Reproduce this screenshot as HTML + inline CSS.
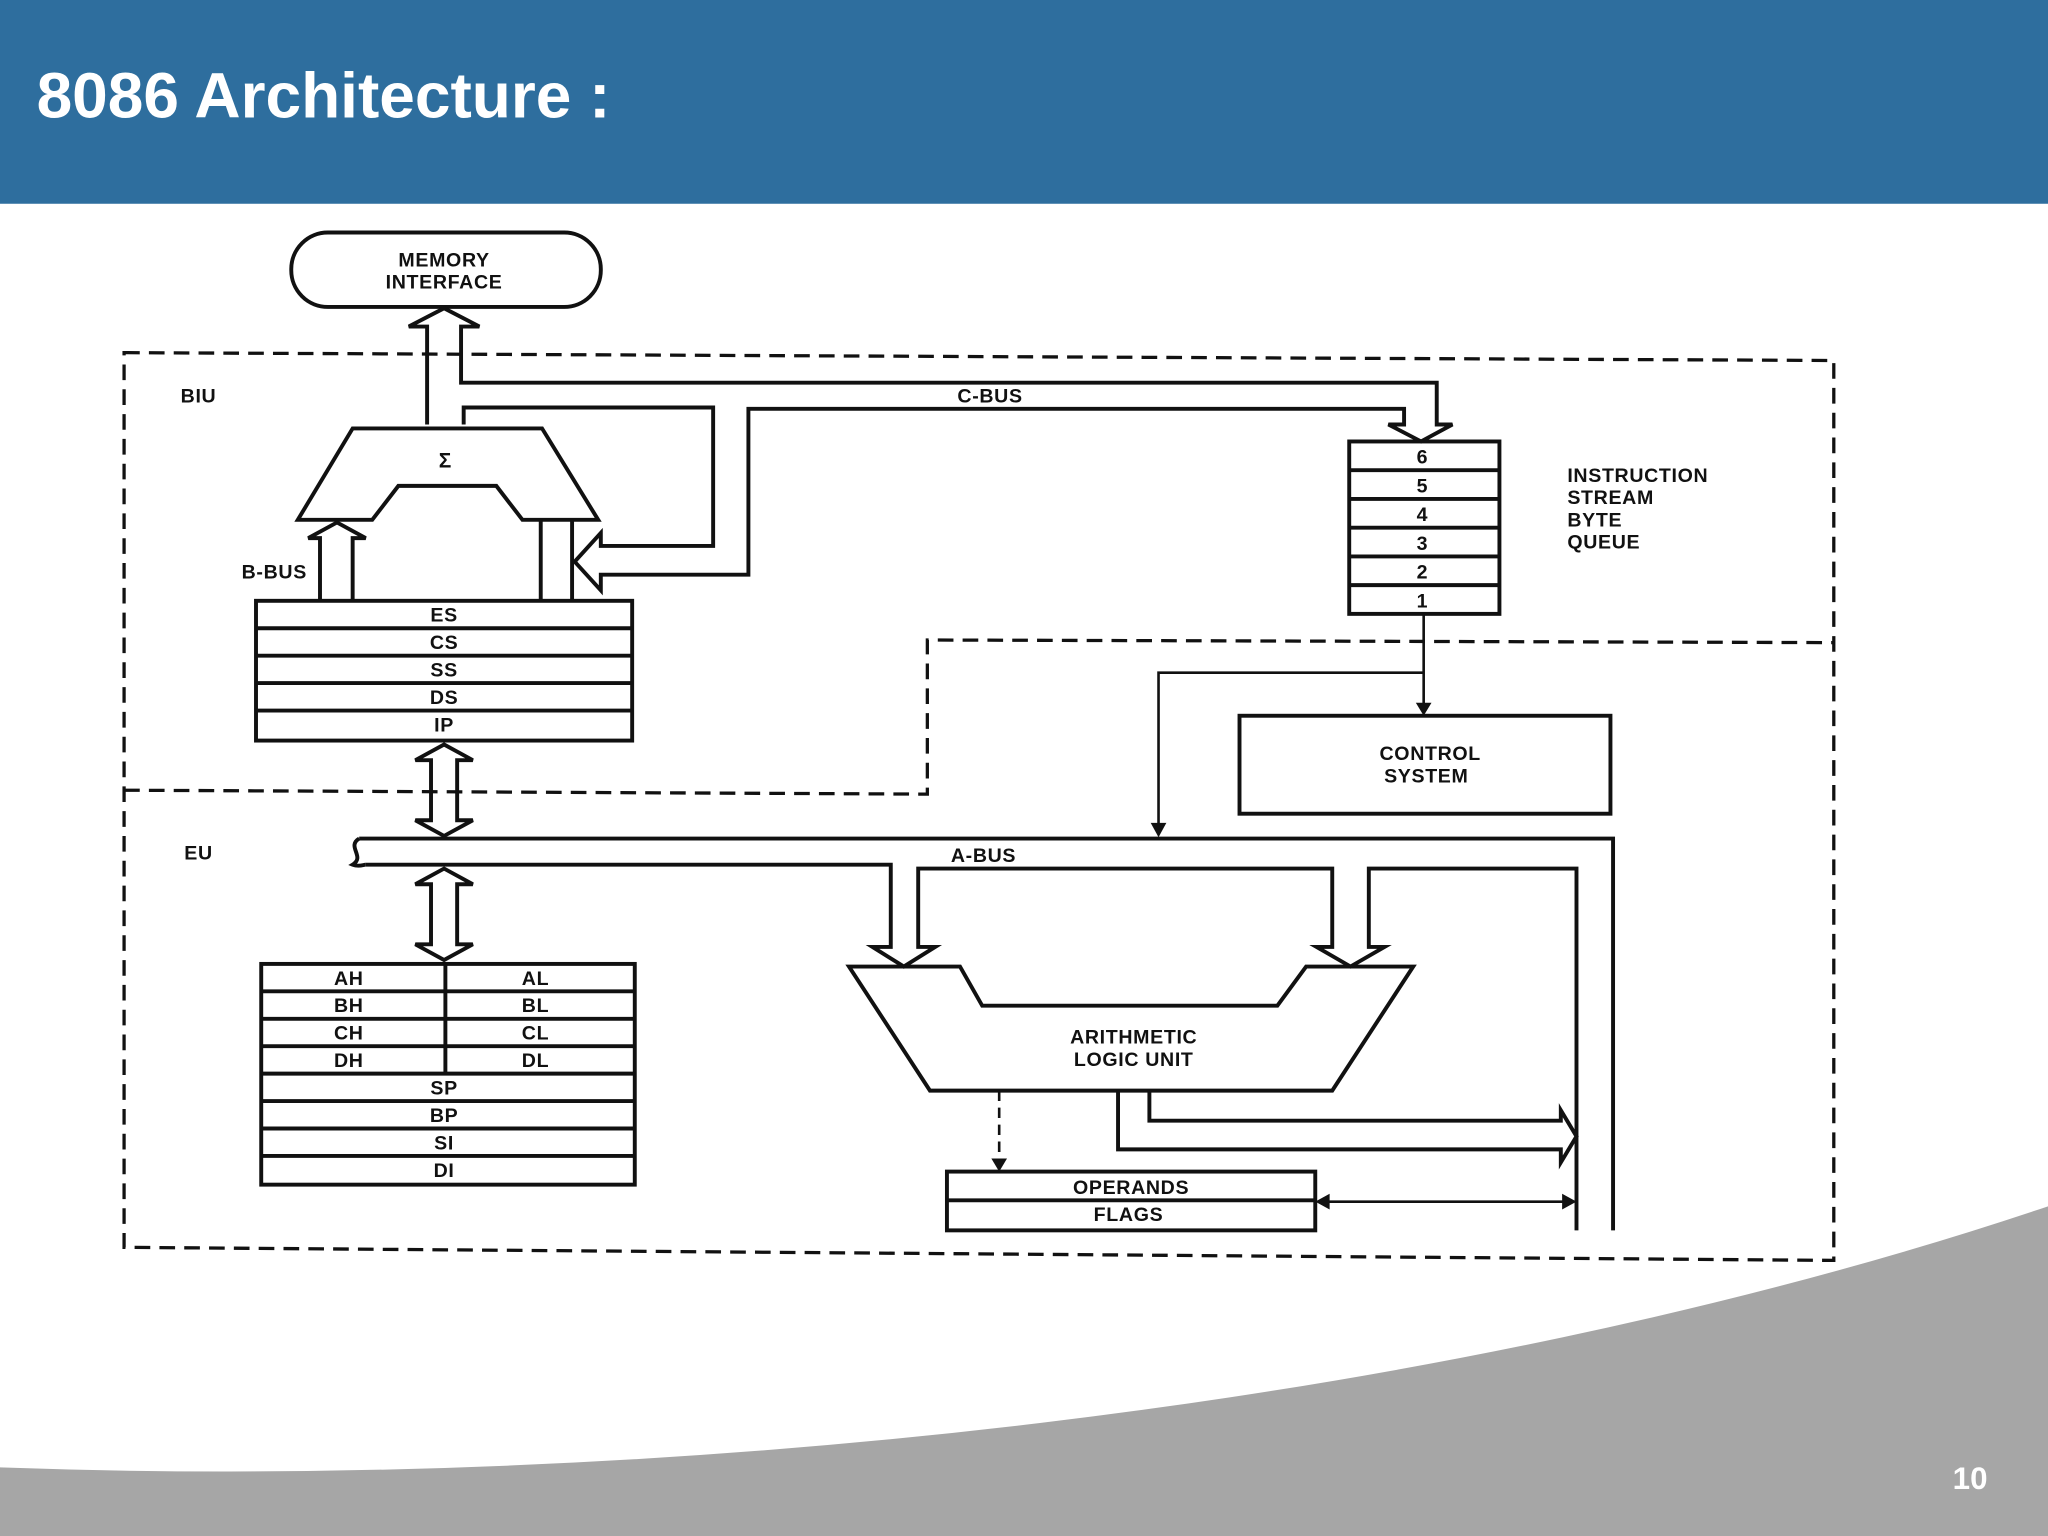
<!DOCTYPE html>
<html><head><meta charset="utf-8"><style>
html,body{margin:0;padding:0;width:2048px;height:1536px;overflow:hidden;background:#fff}
svg{display:block}
</style></head><body>
<svg width="2048" height="1536" viewBox="0 0 1568 1176" xmlns="http://www.w3.org/2000/svg">
<rect x="0" y="0" width="1568" height="156" fill="#2E6E9E"/>
<text x="28" y="90" font-family="Liberation Sans, sans-serif" font-weight="bold" font-size="49" fill="#fff">8086 Architecture :</text>
<!-- bottom swoosh -->
<path d="M0,1122 C500,1140 1100,1080 1568,922 L1568,1176 L0,1176 Z" fill="#A6A6A6"/>
<path d="M0,1122 C500,1140 1100,1080 1568,922" fill="none" stroke="#fff" stroke-width="3"/>
<text x="1495" y="1140" font-family="Liberation Sans, sans-serif" font-weight="bold" font-size="24" fill="#fff">10</text>

<g fill="none" stroke="#111" stroke-width="3">
<rect x="223" y="178" width="237" height="57" rx="28"/>
<g stroke-dasharray="12,7" stroke-width="2.5">
<path d="M95,270 L1404,276 L1404,965 L95,955 Z"/>
<path d="M95,605 L710,608 L710,490 L1404,492"/>
</g>
<path d="M327,325 L327,250 L313,250 L340,236 L367,250 L353,250 L353,293 L1100,293 L1100,325 L1112,325 L1088,338 L1063,325 L1075,325 L1075,313 L573,313 L573,440 L460,440 L460,452 L440,430 L460,408 L460,418 L546,418 L546,312 L355,312 L355,325"/>
<path d="M270,328 L415,328 L458,398 L400,398 L380,372 L305,372 L285,398 L228,398 Z"/>
<path d="M414,398 L414,460 M438,398 L438,460"/>
<path d="M245,460 L245,412 L236,412 L258,400 L280,412 L270,412 L270,460"/>
<rect x="196" y="460" width="288" height="107"/>
<path d="M196,481 H484 M196,502 H484 M196,523 H484 M196,544 H484"/>
<path d="M330,582 L318,582 L340,570 L362,582 L350,582 L350,628 L362,628 L340,640 L318,628 L330,628 Z"/>
<path d="M330,677 L318,677 L340,665 L362,677 L350,677 L350,723 L362,723 L340,735 L318,723 L330,723 Z"/>
<path d="M275,642 L1235,642 L1235,942"/>
<path d="M280,662 L682,662 L682,725 L668,725 L692,740 L716,725 L703,725 L703,665 L1020,665 L1020,725 L1008,725 L1034,740 L1060,725 L1048,725 L1048,665 L1207,665 L1207,942"/>
<path d="M275,642 C265,648 280,656 270,662 C275,664 278,662 280,662"/>
<path d="M650,740 L735,740 L752,770 L978,770 L1000,740 L1082,740 L1020,835 L712,835 Z"/>
<path d="M856,835 L856,880 L1195,880 L1195,890 L1207,870 L1195,850 L1195,858 L880,858 L880,835"/>
<path d="M765,835 L765,890" stroke-dasharray="8,5" stroke-width="2"/>
<rect x="725" y="897" width="282" height="45"/>
<path d="M725,919 H1007"/>
<path d="M1015,920 L1197,920" stroke-width="2"/>
<rect x="200" y="738" width="286" height="169"/>
<path d="M200,759 H486 M200,780 H486 M200,801 H486 M200,822 H486 M200,843 H486 M200,864 H486 M200,885 H486 M341,738 V822"/>
<rect x="1033" y="338" width="115" height="132"/>
<path d="M1033,360 H1148 M1033,382 H1148 M1033,404 H1148 M1033,426 H1148 M1033,448 H1148"/>
<path d="M1090,470 L1090,540 M1090,515 L887,515 L887,632" stroke-width="2"/>
<rect x="949" y="548" width="284" height="75"/>
</g>
<g fill="#111">
<path d="M1084,538 L1096,538 L1090,548 Z"/>
<path d="M881,630 L893,630 L887,641 Z"/>
<path d="M759,887 L771,887 L765,897 Z"/>
<path d="M1007,920 L1018,914 L1018,926 Z"/>
<path d="M1207,920 L1196,914 L1196,926 Z"/>
</g>
<g font-family="Liberation Sans, sans-serif" font-weight="bold" font-size="15" fill="#111" text-anchor="middle" letter-spacing="0.5">
<text x="340" y="204">MEMORY</text><text x="340" y="221">INTERFACE</text>
<text x="152" y="308">BIU</text><text x="152" y="658">EU</text>
<text x="210" y="443">B-BUS</text><text x="758" y="308">C-BUS</text><text x="753" y="660">A-BUS</text>
<text x="341" y="358" font-size="16">Σ</text>
<text x="340" y="476">ES</text><text x="340" y="497">CS</text><text x="340" y="518">SS</text><text x="340" y="539">DS</text><text x="340" y="560">IP</text>
<text x="267" y="754">AH</text><text x="410" y="754">AL</text>
<text x="267" y="775">BH</text><text x="410" y="775">BL</text>
<text x="267" y="796">CH</text><text x="410" y="796">CL</text>
<text x="267" y="817">DH</text><text x="410" y="817">DL</text>
<text x="340" y="838">SP</text><text x="340" y="859">BP</text><text x="340" y="880">SI</text><text x="340" y="901">DI</text>
<text x="1089" y="355">6</text><text x="1089" y="377">5</text><text x="1089" y="399">4</text><text x="1089" y="421">3</text><text x="1089" y="443">2</text><text x="1089" y="465">1</text>
<text x="1095" y="582">CONTROL</text><text x="1092" y="599">SYSTEM</text>
<text x="868" y="799">ARITHMETIC</text><text x="868" y="816">LOGIC UNIT</text>
<text x="866" y="914">OPERANDS</text><text x="864" y="935">FLAGS</text>
<g text-anchor="start">
<text x="1200" y="369">INSTRUCTION</text><text x="1200" y="386">STREAM</text><text x="1200" y="403">BYTE</text><text x="1200" y="420">QUEUE</text>
</g>
</g>
</svg>
</body></html>
